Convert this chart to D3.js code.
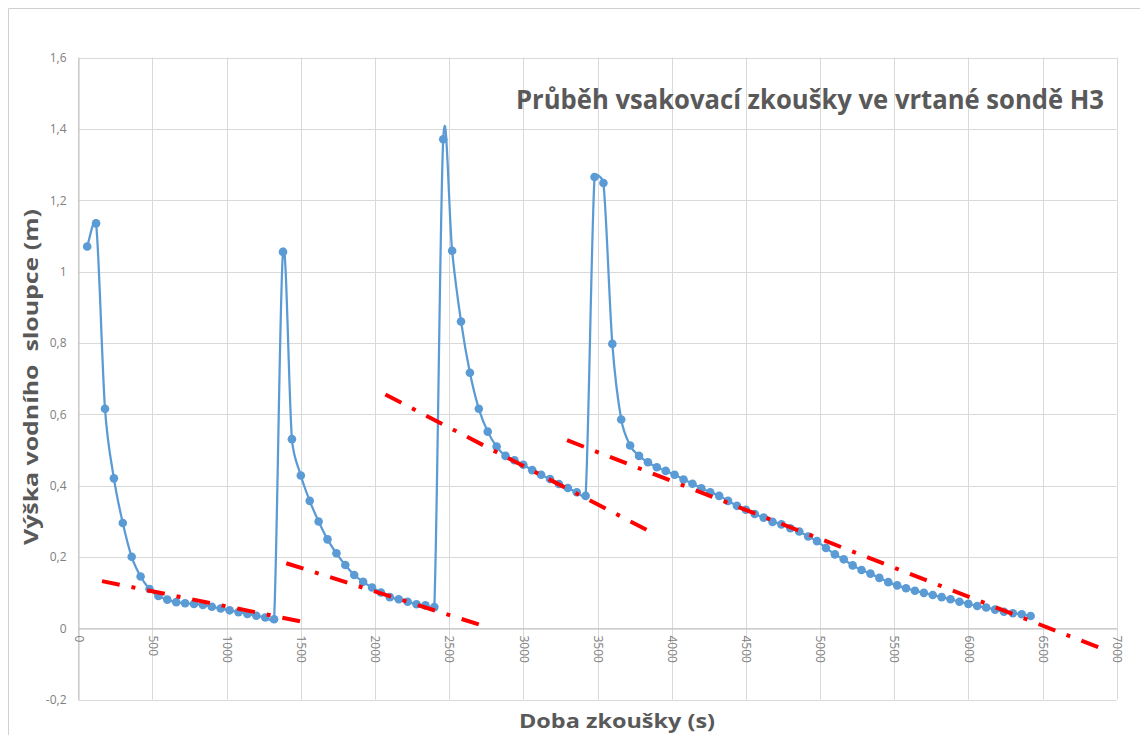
<!DOCTYPE html>
<html>
<head>
<meta charset="utf-8">
<script src="https://cdn.jsdelivr.net/npm/d3@7"></script>
<style>
  html, body { margin: 0; padding: 0; background: #fff; }
  svg { display: block; }
</style>
</head>
<body>
<svg id="chart" width="1140" height="735"></svg>
<script>
// ---------- data ----------
const timeS = [
  60,120,180,240,300,360,420,480,540,600,660,720,780,840,900,960,1020,1080,1140,1200,1260,1320,
  1380,1440,1500,1560,1620,1680,1740,1800,1860,1920,1980,2040,2100,2160,2220,2280,2340,2400,
  2460,2520,2580,2640,2700,2760,2820,2880,2940,3000,3060,3120,3180,3240,3300,3360,3420,
  3480,3540,3600,3660,3720,3780,3840,3900,3960,4020,4080,4140,4200,4260,4320,4380,4440,4500,
  4560,4620,4680,4740,4800,4860,4920,4980,5040,5100,5160,5220,5280,5340,5400,5460,5520,5580,
  5640,5700,5760,5820,5880,5940,6000,6060,6120,6180,6240,6300,6360,6420
];
const heightM = [
  1.07,1.135,0.615,0.42,0.295,0.2,0.145,0.11,0.09,0.08,0.073,0.07,0.068,0.065,0.06,0.055,0.05,0.045,0.04,0.035,0.03,0.025,
  1.055,0.53,0.428,0.357,0.299,0.249,0.21,0.177,0.149,0.13,0.114,0.1,0.087,0.081,0.074,0.067,0.064,0.059,
  1.371,1.058,0.86,0.716,0.615,0.551,0.509,0.483,0.471,0.458,0.443,0.43,0.418,0.404,0.393,0.381,0.371,
  1.265,1.248,0.797,0.585,0.512,0.483,0.465,0.451,0.441,0.43,0.417,0.405,0.392,0.381,0.371,0.357,0.343,0.332,
  0.32,0.31,0.298,0.291,0.28,0.271,0.257,0.244,0.225,0.207,0.193,0.176,0.163,0.153,0.141,0.129,0.12,0.112,
  0.105,0.099,0.093,0.087,0.081,0.074,0.068,0.062,0.058,0.052,0.046,0.042,0.039,0.034
];
// dash-dot trend lines: start time, start height, end time, end height
const trendStartT = [160, 1402, 2070, 3295];
const trendStartH = [0.132, 0.182, 0.655, 0.527];
const trendEndT   = [1569, 2733, 3868, 6903];
const trendEndH   = [0.013, 0.006, 0.268, -0.058];

const xTicks = [0,500,1000,1500,2000,2500,3000,3500,4000,4500,5000,5500,6000,6500,7000];
const xTickLabels = ["0","500","1000","1500","2000","2500","3000","3500","4000","4500","5000","5500","6000","6500","7000"];
const yTicks = [-0.2,0,0.2,0.4,0.6,0.8,1,1.2,1.4,1.6];
const yTickLabels = ["-0,2","0","0,2","0,4","0,6","0,8","1","1,2","1,4","1,6"];

const titleText = "Průběh vsakovací zkoušky ve vrtané sondě H3";
const xTitle = "Doba zkoušky (s)";
const yTitle = "Výška vodního  sloupce (m)";

// ---------- smoothed curve (spreadsheet-style Bezier smoothing) ----------
function SmoothCurve(context) { this._context = context; }
SmoothCurve.prototype = {
  areaStart() { this._line = 0; },
  areaEnd() { this._line = NaN; },
  lineStart() { this._pts = []; },
  point(px, py) { this._pts.push([+px, +py]); },
  lineEnd() {
    const p = this._pts, n = p.length, c = this._context;
    if (!n) return;
    c.moveTo(p[0][0], p[0][1]);
    const clip = (v, maxLen) => {
      const l = Math.hypot(v[0], v[1]);
      if (l > maxLen && l > 0) return [v[0] * maxLen / l, v[1] * maxLen / l];
      return v;
    };
    for (let i = 0; i < n - 1; i++) {
      const P0 = p[Math.max(i - 1, 0)], P1 = p[i], P2 = p[i + 1], P3 = p[Math.min(i + 2, n - 1)];
      const L = Math.hypot(P2[0] - P1[0], P2[1] - P1[1]);
      const t1 = clip([(P2[0] - P0[0]) / 6, (P2[1] - P0[1]) / 6], 0.5 * L);
      const t2 = clip([(P3[0] - P1[0]) / 6, (P3[1] - P1[1]) / 6], 0.5 * L);
      c.bezierCurveTo(P1[0] + t1[0], P1[1] + t1[1], P2[0] - t2[0], P2[1] - t2[1], P2[0], P2[1]);
    }
  }
};
const curveSmooth = ctx => new SmoothCurve(ctx);

// ---------- chart ----------
const svg = d3.select("#chart");
const x = d3.scaleLinear().domain([0, 7000]).range([78.3, 1116.7]);
const y = d3.scaleLinear().domain([-0.2, 1.6]).range([699.5, 57.5]);

// outer frame (top and left edges visible)
svg.append("path")
  .attr("d", "M8.5,735 L8.5,8.5 L1140,8.5")
  .attr("fill", "none").attr("stroke", "#d0d0d0").attr("stroke-width", 1);

// gridlines
const grid = svg.append("g");
grid.selectAll("line.h").data(yTicks).join("line")
  .attr("x1", x(0)).attr("x2", x(7000))
  .attr("y1", d => Math.round(y(d)) + 0.5).attr("y2", d => Math.round(y(d)) + 0.5)
  .attr("stroke", "#d9d9d9").attr("stroke-width", 1);
grid.selectAll("line.v").data(xTicks).join("line")
  .attr("y1", y(1.6)).attr("y2", y(-0.2))
  .attr("x1", d => Math.round(x(d)) + 0.5).attr("x2", d => Math.round(x(d)) + 0.5)
  .attr("stroke", "#d9d9d9").attr("stroke-width", 1);

// y axis
const yAxis = d3.axisLeft(y).tickValues(yTicks)
  .tickFormat((d, i) => yTickLabels[i]).tickSize(0).tickPadding(12);
const gy = svg.append("g").attr("transform", `translate(${Math.round(x(0)) + 0.5},0)`).call(yAxis);
gy.select(".domain").attr("stroke", "#bfbfbf");
gy.selectAll("text").attr("fill", "#808080")
  .style("font-family", "'Open Sans', 'Liberation Sans', sans-serif").style("font-size", "12px");

// x axis crossing at 0
const xAxis = d3.axisBottom(x).tickValues(xTicks)
  .tickFormat((d, i) => xTickLabels[i]).tickSize(0).tickPadding(0);
const gx = svg.append("g").attr("transform", `translate(0,${Math.round(y(0)) + 0.5})`).call(xAxis);
gx.select(".domain").attr("stroke", "#bfbfbf");
gx.selectAll("text")
  .attr("fill", "#808080")
  .style("font-family", "'Open Sans', 'Liberation Sans', sans-serif").style("font-size", "12px")
  .attr("text-anchor", "start").attr("dy", "0.35em").attr("y", 0)
  .attr("transform", "translate(0,7) rotate(90)");

// blue series
const pts = timeS.map((t, i) => [t, heightM[i]]);
const line = d3.line().x(d => x(d[0])).y(d => y(d[1])).curve(curveSmooth);
svg.append("path").datum(pts)
  .attr("d", line).attr("fill", "none")
  .attr("stroke", "#5b9bd5").attr("stroke-width", 2.25).attr("stroke-linejoin", "round");
svg.append("g").selectAll("circle").data(pts).join("circle")
  .attr("cx", d => x(d[0])).attr("cy", d => y(d[1])).attr("r", 4.3)
  .attr("fill", "#5b9bd5");

// red trend lines
svg.append("g").selectAll("line").data(trendStartT).join("line")
  .attr("x1", (d, i) => x(trendStartT[i])).attr("y1", (d, i) => y(trendStartH[i]))
  .attr("x2", (d, i) => x(trendEndT[i])).attr("y2", (d, i) => y(trendEndH[i]))
  .attr("stroke", "#ff0000").attr("stroke-width", 4)
  .attr("stroke-dasharray", "18,12,4,12");

// titles
svg.append("text").text(titleText)
  .attr("x", 1104).attr("y", 109).attr("text-anchor", "end")
  .attr("fill", "#595959")
  .style("font-family", "'Open Sans', 'Liberation Sans', sans-serif")
  .style("font-weight", "bold").style("font-size", "26px")
  .attr("textLength", 588).attr("lengthAdjust", "spacingAndGlyphs");

svg.append("text").text(xTitle)
  .attr("x", 617).attr("y", 728).attr("text-anchor", "middle")
  .attr("fill", "#595959")
  .style("font-family", "'Open Sans', 'Liberation Sans', sans-serif")
  .style("font-weight", "bold").style("font-size", "20px")
  .attr("textLength", 196).attr("lengthAdjust", "spacingAndGlyphs");

svg.append("text").text(yTitle)
  .attr("transform", "translate(38,377) rotate(-90)")
  .attr("text-anchor", "middle").attr("xml:space", "preserve")
  .style("white-space", "pre")
  .attr("fill", "#595959")
  .style("font-family", "'Open Sans', 'Liberation Sans', sans-serif")
  .style("font-weight", "bold").style("font-size", "20px")
  .attr("textLength", 336).attr("lengthAdjust", "spacingAndGlyphs");
</script>
</body>
</html>
